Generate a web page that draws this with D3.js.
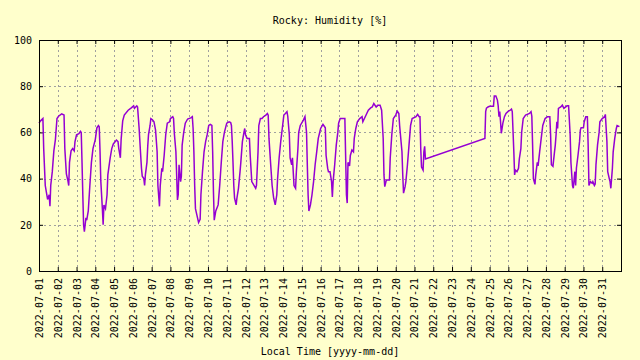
<!DOCTYPE html>
<html>
<head>
<meta charset="utf-8">
<script src="https://cdn.jsdelivr.net/npm/d3@7"></script>
<style>
  html, body { margin: 0; padding: 0; background: #ffffcc; }
  svg { display: block; }
  text { font-family: "DejaVu Sans Mono", monospace; font-size: 10px; fill: #000; }
</style>
</head>
<body>
<svg id="chart" width="640" height="360"></svg>
<script>
// ---- data ----
const chartTitle = "Rocky: Humidity [%]";
const xAxisTitle = "Local Time [yyyy-mm-dd]";
const startTime = "2022-07-01T00:00:00Z";
const endTime = "2022-08-01T00:00:00Z";
const yTicks = [0, 20, 40, 60, 80, 100];

// hours elapsed since startTime
const hoursElapsed = [
  0,2,5,6,8,11,13,14,15,17,19,21,23,25,29,32,33,35,37,38,39,41,43,45,46,48,51,53,54,55,56,57,58,60,61,63,65,67,69,72,74,76,77,78,79,81,82,83,85,87,88,91,93,95,99,101,102,104,105,107,109,114,118,121,
  122,125,126,128,130,131,132,134,135,136,138,139,140,142,143,145,147,149,151,152,154,155,157,158,160,162,164,167,168,171,172,173,175,177,178,179,181,182,183,185,187,190,194,196,197,198,199,200,202,204,206,207,209,211,213,215,217,219,221,222,223,224,226,229,231,233,235,237,240,243,
  245,246,247,248,249,250,252,253,255,257,258,260,262,263,264,266,269,270,272,275,277,278,280,281,283,285,287,290,292,293,294,296,298,300,302,304,305,307,309,311,313,315,317,318,320,321,323,324,325,326,328,329,331,332,334,338,340,342,343,344,345,347,349,351,353,355,357,360,363,364,
  366,367,369,370,372,374,375,376,378,380,382,383,385,389,391,392,393,394,395,397,398,400,402,403,405,407,410,413,414,416,419,421,424,426,428,431,433,436,438,440,441,442,444,446,448,449,451,453,456,458,460,461,464,465,466,468,469,471,473,475,477,482,484,486,
  487,488,489,491,492,493,494,570,571,572,574,576,581,582,584,586,587,588,589,590,591,593,595,597,600,602,604,605,607,608,
  609,611,613,614,616,617,619,622,627,629,630,631,632,634,635,637,638,640,642,644,647,650,653,654,655,657,659,660,661,662,663,664,667,669,671,675,677,679,680,682,683,685,686,687,689,691,692,693,696,697,699,701,702,703,705,707,708,710,711,712,714,716,717,720,723,724,726,727,729,730,731,733,734,736,738,739,742
];

const humidity = [
  64,65,66,53,37,31,33,28,37,43,52,57,66,67,68,67.5,53,42,39,37,47,52,53,52,56,59,59.5,60.5,60,47,33,20,17,23,22,26,37,47,53,57,62,63,62.5,52,39,27,20,28.6,27,33,41.6,49,53,55,56.7,56,53,49,57,65,67.5,69.6,70.6,71.5,
  70.4,71.5,71,61.7,50,44.5,41,40,37,41.6,47,54,59,63,66,65.5,64.6,61,51.6,37,28,37,44.5,43,50,59,64,64.6,66,66.8,66,59.6,51.6,30.8,33,46,38.7,41,54.5,60,64,65.8,66.3,66.8,61.7,51.6,37,27,24,21,22.4,33,43,51.6,56,59,63,63.5,63,51.6,34.4,22,26,28.6,37,47,56,60,64,64.6,
  64.3,63,56,47,37,31.5,28.6,31.5,35.8,43,47,56,60,61.7,59,57.4,57.4,50,38.7,37,35.8,37,51.6,63,66,66,66.8,67.5,68.2,67.5,57.4,47,37,31.5,28.6,33,40,49,56,61.7,67.5,68.2,69,67,59,49,46,49,43,37,35.8,43,53,60,63,65.3,66.8,60,46,33,26,28.6,33,38.7,46,51.6,57.4,61.7,63.5,63,
  62,50,44.5,43,43,38.7,32,38.7,46,54.5,60,64,66,66,66,49.5,33,29.4,47,45.5,50,52.4,51.6,57.4,61.7,64.6,66,66.8,64.6,66,68.2,69.6,70.6,71,72.5,71,71.8,71.8,69.6,57.4,41.6,36.5,39.4,39.4,39.4,49,59,66,67.5,69.2,68.2,63,51.6,41.6,33.7,36.5,38.7,46,54.5,63,66,66.8,67.8,66.8,
  66.8,53,45,43.7,51.6,54,48.5,57.4,69,70.5,71,71.3,71.3,75.8,75.8,74,71.5,66.8,69,64.6,59.6,64,66.8,68.2,69.2,69.5,70.1,69,51.6,41.6,
  43.7,43,44.5,48.5,53,60,66,67.5,68.2,69,67,54.5,40,37.5,41.6,47,45.5,51.6,57.4,63,66,66.8,66.8,59,46,45.3,51.6,54.5,59,64.6,61.7,70.4,71,71.8,70.4,71.5,71.5,59,47,37,35.8,43,37,44.5,50,56,61,62,62,64.6,66.8,66.8,54.5,37,38.7,38,38.7,37,37.6,46,54.5,60,64.6,66,66.8,67.8,56,43,40,38.7,35.8,44.5,51.6,57.4,61.7,63,62.5
];

// ---- layout ----
const W = 640, H = 360;
const margin = { top: 40, right: 19, bottom: 89, left: 39 };
const iw = W - margin.left - margin.right;
const ih = H - margin.top - margin.bottom;

const svg = d3.select("#chart");
svg.append("rect").attr("width", W).attr("height", H).attr("fill", "#ffffcc");

const t0 = new Date(startTime), t1 = new Date(endTime);
const points = hoursElapsed.map((h, i) => ({ t: d3.utcHour.offset(t0, h), v: humidity[i] }));

const x = d3.scaleUtc().domain([t0, t1]).range([0, iw]);
const y = d3.scaleLinear().domain([0, 100]).range([ih, 0]);
const dayTicks = d3.utcDay.range(t0, t1);
const fmt = d3.utcFormat("%Y-%m-%d");

const g = svg.append("g").attr("transform", `translate(${margin.left},${margin.top})`);

// grid
const grid = g.append("g").attr("stroke", "#a0a0a0").attr("stroke-width", 1).attr("stroke-dasharray", "2,3");
grid.selectAll("line.vx").data(dayTicks.slice(1)).join("line")
  .attr("x1", d => Math.round(x(d)) + 0.5).attr("x2", d => Math.round(x(d)) + 0.5)
  .attr("y1", 0).attr("y2", ih);
grid.selectAll("line.hy").data(yTicks.slice(1, -1)).join("line")
  .attr("y1", d => Math.round(y(d)) + 0.5).attr("y2", d => Math.round(y(d)) + 0.5)
  .attr("x1", 0).attr("x2", iw);

// axes (inward ticks, gnuplot style)
const xb = g.append("g").attr("transform", `translate(0,${ih})`)
  .call(d3.axisBottom(x).tickValues(dayTicks).tickFormat(fmt).tickSizeInner(-4).tickSizeOuter(0));
xb.selectAll("text")
  .attr("transform", "rotate(-90)")
  .attr("text-anchor", "end")
  .attr("x", -7).attr("y", 0).attr("dy", "0.35em")
  .style("font-family", "'DejaVu Sans Mono', monospace").style("font-size", "10px");

g.append("g").call(d3.axisTop(x).tickValues(dayTicks).tickFormat("").tickSizeInner(-4).tickSizeOuter(0));

g.append("g").call(d3.axisLeft(y).tickValues(yTicks).tickSizeInner(-4).tickSizeOuter(0).tickPadding(7))
  .selectAll("text").style("font-family", "'DejaVu Sans Mono', monospace").style("font-size", "10px");
g.append("g").attr("transform", `translate(${iw},0)`)
  .call(d3.axisRight(y).tickValues(yTicks).tickFormat("").tickSizeInner(-4).tickSizeOuter(0));

g.selectAll(".domain").remove();
g.selectAll(".tick line").attr("stroke", "#000");

// data line
const line = d3.line().x(d => x(d.t)).y(d => y(d.v)).curve(d3.curveLinear);
g.append("path").datum(points)
  .attr("fill", "none").attr("stroke", "#9400d3").attr("stroke-width", 1.5)
  .attr("stroke-linejoin", "miter").attr("d", line);

// border
g.append("rect").attr("x", 0.5).attr("y", 0.5).attr("width", iw).attr("height", ih)
  .attr("fill", "none").attr("stroke", "#000").attr("stroke-width", 1);

// titles
svg.append("text").attr("x", margin.left + iw / 2).attr("y", 24)
  .attr("text-anchor", "middle").text(chartTitle);
svg.append("text").attr("x", margin.left + iw / 2).attr("y", 355)
  .attr("text-anchor", "middle").text(xAxisTitle);
</script>
</body>
</html>
